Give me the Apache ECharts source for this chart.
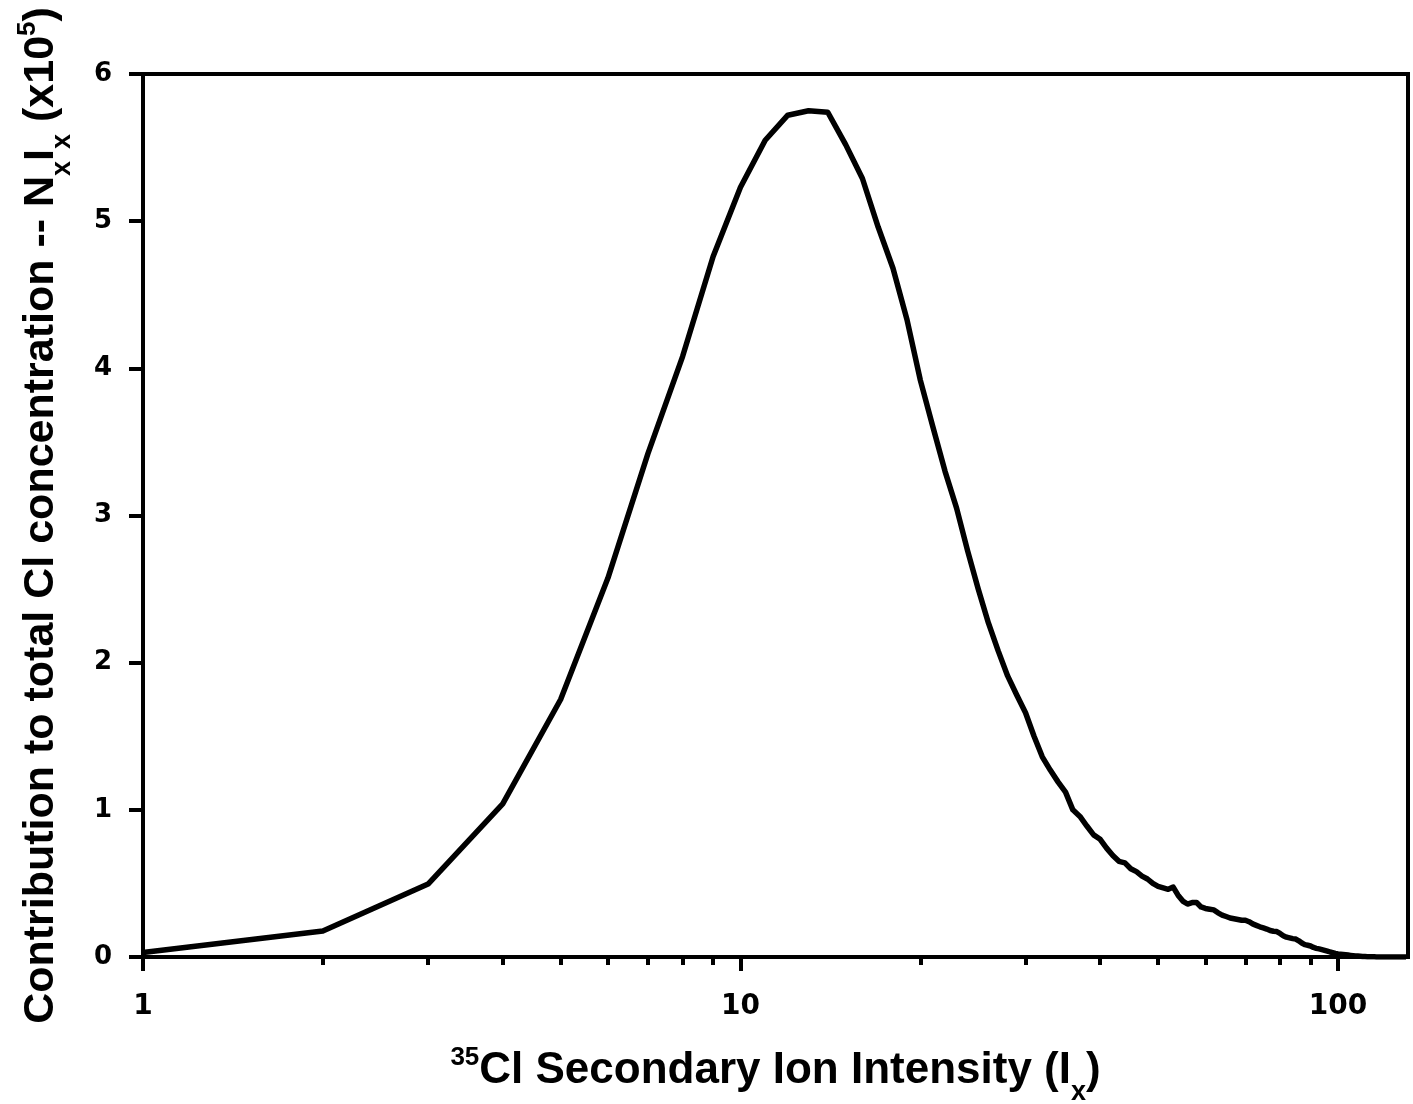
<!DOCTYPE html>
<html>
<head>
<meta charset="utf-8">
<script src="https://cdn.jsdelivr.net/npm/echarts@6/dist/echarts.min.js"></script>
<style>html,body{margin:0;padding:0;background:#fff}#c{width:1413px;height:1104px}</style>
</head>
<body>
<div id="c"></div>
<script>
// ---- data ----
const intensity = [1,2,3,4,5,6,7,8,9,10,11,12,13,14,15,16,17,18,19,20,21,22,23,24,25,26,27,28,29,30,
  31,32,33,34,35,36,37,38,39,40,41,42,43,44,45,46,47,48,49,50,51,52,53,54,55,56,57,58,59,60,
  61,62,63,64,65,66,67,68,69,70,71,72,73,74,75,76,77,78,79,80,81,82,83,84,85,86,87,88,89,90,
  91,92,93,94,95,96,97,98,99,100,101,102,103,104,105,106,107,108,109,110,111,112,113,114,115,
  116,117,118,119,120,121,122,123,124,125,126,127,128,129,130];
const contribution = [0.03,0.177,0.496,1.04,1.75,2.575,3.42,4.08,4.76,5.23,5.55,5.72,5.75,5.74,5.52,5.29,4.96,4.68,4.33,3.92,
  3.60,3.30,3.05,2.76,2.50,2.27,2.08,1.91,1.78,1.66,1.50,1.36,1.27,1.19,1.12,1.00,0.955,0.89,0.83,0.80,
  0.74,0.69,0.65,0.64,0.60,0.58,0.55,0.53,0.50,0.48,0.47,0.46,0.475,0.42,0.38,0.36,0.37,0.37,0.34,0.33,
  0.325,0.32,0.30,0.285,0.275,0.265,0.26,0.255,0.25,0.25,0.24,0.225,0.215,0.205,0.198,0.19,0.18,0.175,0.173,0.16,
  0.145,0.135,0.13,0.125,0.122,0.11,0.095,0.084,0.08,0.075,0.065,0.059,0.055,0.05,0.045,0.04,0.034,0.03,0.025,0.021,
  0.019,0.017,0.015,0.013,0.011,0.009,0.007,0.006,0.005,0.004,0.003,0.002,0.002,0.001,0.001,
  0,0,0,0,0,0,0,0,0,0,0,0,0,0,0];
const xMajorTicks = [1, 10, 100];
const xMinorTicks = [2,3,4,5,6,7,8,9,20,30,40,50,60,70,80,90];

const TICKFONT = '"DejaVu Sans", Verdana, sans-serif';
const NARROW = '"Liberation Sans Narrow", "Arial Narrow", "Liberation Sans", Arial, sans-serif';

const chart = echarts.init(document.getElementById('c'), null, {renderer: 'canvas'});
const seriesData = intensity.map((x, i) => [x, contribution[i]]);

const titleRich = {
  t: {fontFamily: NARROW, fontWeight: 'bold', fontSize: 44, color: '#000', verticalAlign: 'bottom'},
  sup: {fontFamily: NARROW, fontWeight: 'bold', fontSize: 26, color: '#000', verticalAlign: 'top', padding: [0,0,22,0]},
  sub: {fontFamily: NARROW, fontWeight: 'bold', fontSize: 27, color: '#000', verticalAlign: 'bottom', padding: [0,0,-13,0]}
};
const yTitleRich = {
  t: {fontFamily: NARROW, fontWeight: 'bold', fontSize: 43, color: '#000', verticalAlign: 'bottom'},
  sup: {fontFamily: NARROW, fontWeight: 'bold', fontSize: 26, color: '#000', verticalAlign: 'top', padding: [0,0,22,0]},
  sub: {fontFamily: NARROW, fontWeight: 'bold', fontSize: 27, color: '#000', verticalAlign: 'bottom', padding: [0,0,-13,0]}
};

chart.setOption({
  animation: false,
  backgroundColor: '#fff',
  grid: {left: 143, top: 74, right: 5, bottom: 147, containLabel: false, outerBoundsMode: 'none',
    show: true, borderColor: '#000', borderWidth: 4, backgroundColor: 'transparent'},
  xAxis: [{
    type: 'log', logBase: 10, min: 1, max: 131,
    position: 'bottom',
    axisLine: {show: true, onZero: false, lineStyle: {color: '#000', width: 4}},
    axisTick: {show: true, inside: false, length: 14, customValues: xMajorTicks, lineStyle: {color: '#000', width: 4}},
    axisLabel: {show: true, customValues: xMajorTicks, margin: 36, color: '#000', fontFamily: TICKFONT, fontWeight: 'bold', fontSize: 28},
    splitLine: {show: false},
    minorTick: {show: false},
    name: '{sup|35}{t|Cl Secondary Ion Intensity (I}{sub|x}{t|)}',
    nameLocation: 'middle', nameGap: 88,
    nameTextStyle: {rich: titleRich}
  }, {
    type: 'log', logBase: 10, min: 1, max: 131,
    position: 'bottom', gridIndex: 0,
    axisLine: {show: false},
    axisTick: {show: true, inside: false, length: 8, customValues: xMinorTicks, lineStyle: {color: '#000', width: 4}},
    axisLabel: {show: false},
    splitLine: {show: false}
  }],
  yAxis: {
    type: 'value', min: 0, max: 6, interval: 1,
    axisLine: {show: true, lineStyle: {color: '#000', width: 4}},
    axisTick: {show: true, inside: false, length: 14, lineStyle: {color: '#000', width: 4}},
    axisLabel: {margin: 31, color: '#000', fontFamily: TICKFONT, fontWeight: 'bold', fontSize: 26},
    splitLine: {show: false},
    name: '{t|Contribution to total Cl concentration -- N}{sub|x}{t|I}{sub|x}{t| (x10}{sup|5}{t|)}',
    nameLocation: 'middle', nameRotate: 90, nameGap: 80,
    nameTextStyle: {rich: yTitleRich}
  },
  series: [{
    type: 'line', xAxisIndex: 0, yAxisIndex: 0,
    data: seriesData, showSymbol: false, symbol: 'none',
    lineStyle: {color: '#000', width: 5.5, join: 'round'}, smooth: false, clip: true
  }]
});
</script>
</body>
</html>
